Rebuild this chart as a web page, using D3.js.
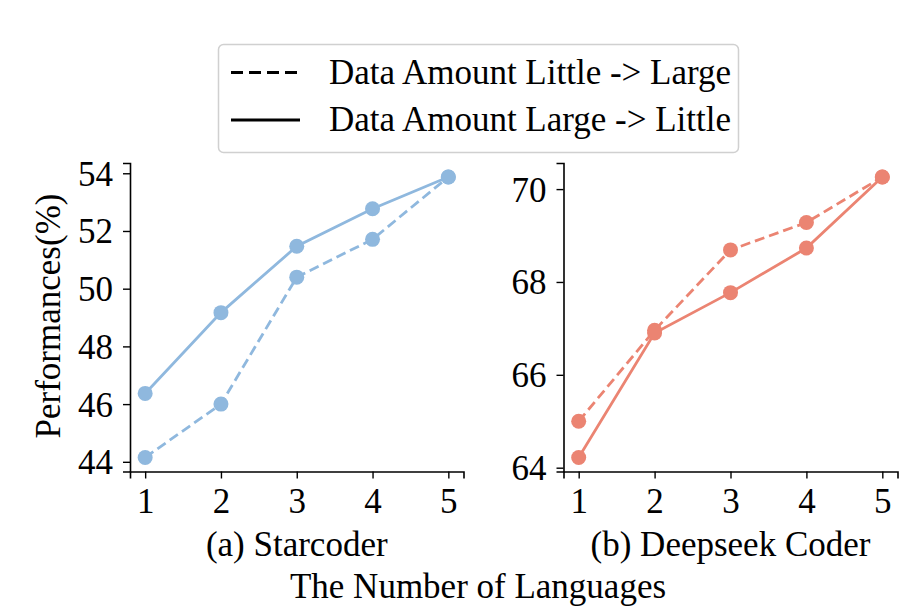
<!DOCTYPE html>
<html>
<head>
<meta charset="utf-8">
<script src="https://cdn.jsdelivr.net/npm/d3@7"></script>
<style>
  body { margin: 0; background: #fff; }
</style>
</head>
<body>
<svg id="chart" width="910" height="616"></svg>
<script>
// x values: number of languages
const languages = [1, 2, 3, 4, 5];

// Starcoder
const starLittleToLarge = [44.15, 46.0, 50.40, 51.71, 53.87];
const starLargeToLittle = [46.37, 49.17, 51.47, 52.77, 53.87];
const starTicks = [44, 46, 48, 50, 52, 54];

// Deepseek Coder
const deepLittleToLarge = [65.0, 66.96, 68.69, 69.28, 70.26];
const deepLargeToLittle = [64.22, 66.90, 67.77, 68.73, 70.26];
const deepTicks = [64, 66, 68, 70];

const legendLabels = ["Data Amount Little -> Large", "Data Amount Large -> Little"];
const panelTitles = ["(a) Starcoder", "(b) Deepseek Coder"];

const FONT = "Liberation Serif";
const svg = d3.select("#chart");

const panels = [
    { left: 130, right: 463.5, title: panelTitles[0], color: "#8fb8de",
      dashed: starLittleToLarge, solid: starLargeToLittle, ticks: starTicks },
    { left: 563.5, right: 897.5, title: panelTitles[1], color: "#eb8472",
      dashed: deepLittleToLarge, solid: deepLargeToLittle, ticks: deepTicks }
];
const plotTop = 163, plotBottom = 471.5;

// pad the data range by 5% like matplotlib does
function padded(values) {
    const [lo, hi] = d3.extent(values);
    const m = (hi - lo) * 0.05;
    return [lo - m, hi + m];
}

panels.forEach(p => {
    const x = d3.scaleLinear().domain([0.8, 5.2]).range([p.left, p.right]);
    const y = d3.scaleLinear().domain(padded(p.dashed.concat(p.solid))).range([plotBottom, plotTop]);
    const g = svg.append("g");

    // axes
    const xAxis = g.append("g")
        .attr("transform", `translate(0,${plotBottom})`)
        .call(d3.axisBottom(x).tickValues(languages).tickFormat(d3.format("d")).tickSizeOuter(0).tickSize(7).tickPadding(6));
    const yAxis = g.append("g")
        .attr("transform", `translate(${p.left},0)`)
        .call(d3.axisLeft(y).tickValues(p.ticks).tickFormat(d3.format("d")).tickSizeOuter(0).tickSize(7).tickPadding(10));
    [xAxis, yAxis].forEach(a => {
        a.attr("font-family", FONT);
        a.select(".domain").attr("stroke", "#000").attr("stroke-width", 1.6);
        a.selectAll(".tick line").attr("stroke", "#000").attr("stroke-width", 1.4);
        a.selectAll("text")
            .style("font-family", FONT)
            .style("font-size", "35px")
            .attr("fill", "#000");
    });
    xAxis.selectAll("text").attr("dy", "0.8em");
    yAxis.selectAll("text").attr("dy", "0.34em");

    const line = d3.line().x((d, i) => x(languages[i])).y(d => y(d));

    // dashed series
    g.append("path")
        .datum(p.dashed)
        .attr("d", line)
        .attr("fill", "none")
        .attr("stroke", p.color)
        .attr("stroke-width", 2.8)
        .attr("stroke-dasharray", "10,5");
    // solid series
    g.append("path")
        .datum(p.solid)
        .attr("d", line)
        .attr("fill", "none")
        .attr("stroke", p.color)
        .attr("stroke-width", 2.8);

    [p.dashed, p.solid].forEach(series => {
        g.selectAll(null)
            .data(series)
            .enter().append("circle")
            .attr("cx", (d, i) => x(languages[i]))
            .attr("cy", d => y(d))
            .attr("r", 7.5)
            .attr("fill", p.color);
    });

    // subplot title under the x axis
    g.append("text")
        .attr("x", (p.left + p.right) / 2)
        .attr("y", 556)
        .attr("text-anchor", "middle")
        .style("font-family", FONT)
        .style("font-size", "35px")
        .text(p.title);
});

// shared labels
svg.append("text")
    .attr("x", 478)
    .attr("y", 598)
    .attr("text-anchor", "middle")
    .style("font-family", FONT)
    .style("font-size", "35px")
    .text("The Number of Languages");

svg.append("text")
    .attr("transform", "translate(60,316) rotate(-90)")
    .attr("text-anchor", "middle")
    .style("font-family", FONT)
    .style("font-size", "35px")
    .text("Performances(%)");

// legend
const legend = svg.append("g");
legend.append("rect")
    .attr("x", 218.5).attr("y", 44.5)
    .attr("width", 520).attr("height", 108)
    .attr("rx", 5)
    .attr("fill", "#fff")
    .attr("stroke", "#d0d0d0")
    .attr("stroke-width", 1.5);

legendLabels.forEach((label, i) => {
    const ly = 72.5 + i * 47.5;
    legend.append("line")
        .attr("x1", 231).attr("x2", 300)
        .attr("y1", ly).attr("y2", ly)
        .attr("stroke", "#000")
        .attr("stroke-width", 3)
        .attr("stroke-dasharray", i === 0 ? "12,6" : null);
    legend.append("text")
        .attr("x", 329)
        .attr("y", ly + 11)
        .style("font-family", FONT)
        .style("font-size", "35px")
        .text(label);
});
</script>
</body>
</html>
